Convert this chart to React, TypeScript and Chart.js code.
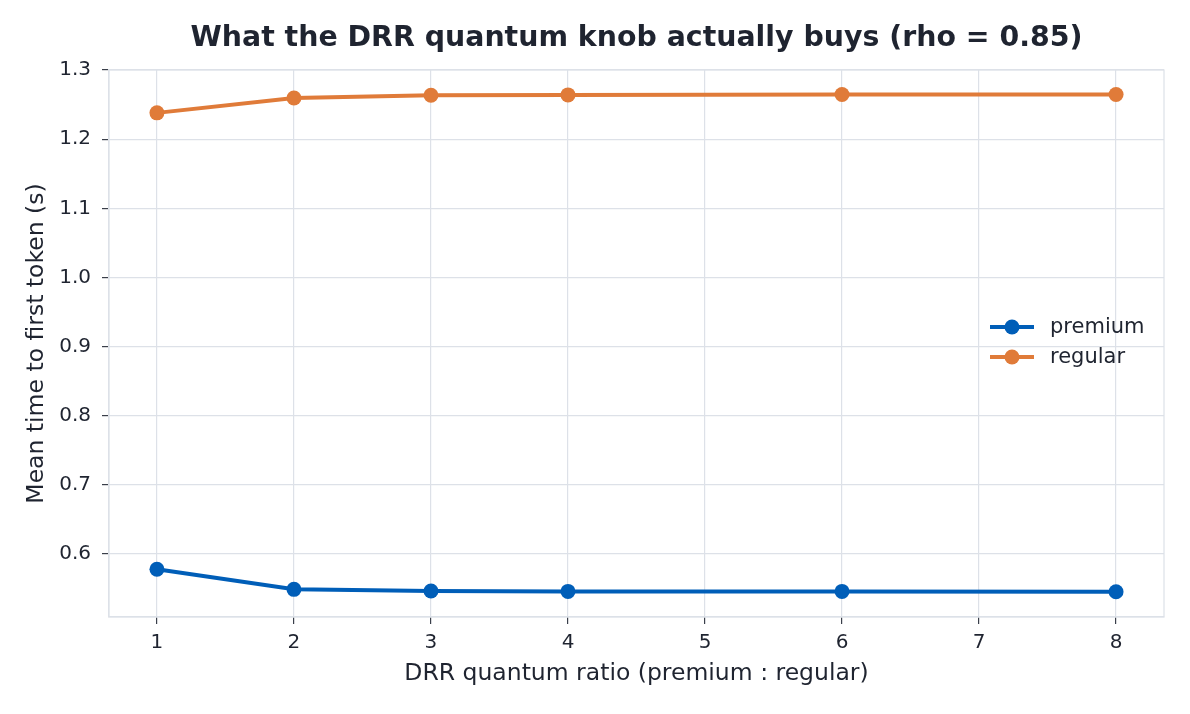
import { useEffect, useRef } from 'react';
import { Chart, registerables } from 'chart.js';

Chart.register(...registerables);

const ratios = [1, 2, 3, 4, 6, 8];
const premiumTtft = [0.578, 0.549, 0.5465, 0.546, 0.546, 0.5455];
const regularTtft = [1.238, 1.2595, 1.2635, 1.264, 1.2645, 1.2645];
const seriesNames = ['premium', 'regular'];
const seriesColors = ['#005eb8', '#e07b39'];
const chartTitle = 'What the DRR quantum knob actually buys (rho = 0.85)';

const TEXT = '#1f2430';
const GRID = '#dde1e8';
const FONT = '"DejaVu Sans", sans-serif';

// title centred on the plot, spines on top/right, legend inside the plot (matplotlib look)
const framePlugin = {
  id: 'frame',
  afterDraw(chart: any) {
    const { ctx, chartArea: a } = chart;
    ctx.save();
    ctx.strokeStyle = GRID;
    ctx.lineWidth = 1.2;
    ctx.strokeRect(a.left, a.top, a.right - a.left, a.bottom - a.top);

    ctx.fillStyle = TEXT;
    ctx.font = `bold 28.4px ${FONT}`;
    ctx.textAlign = 'center';
    ctx.textBaseline = 'middle';
    ctx.fillText(chartTitle, (a.left + a.right) / 2, 38.5);

    ctx.textAlign = 'left';
    const x0 = a.right - 174;
    const x1 = a.right - 130;
    chart.data.datasets.forEach((ds: any, i: number) => {
      const y = a.top + 257 + i * 30;
      ctx.strokeStyle = ds.borderColor;
      ctx.lineWidth = 4;
      ctx.beginPath();
      ctx.moveTo(x0, y);
      ctx.lineTo(x1, y);
      ctx.stroke();
      ctx.fillStyle = ds.borderColor;
      ctx.beginPath();
      ctx.arc((x0 + x1) / 2, y, 7.5, 0, Math.PI * 2);
      ctx.fill();
      ctx.fillStyle = TEXT;
      ctx.font = `21px ${FONT}`;
      ctx.fillText(ds.label, a.right - 114, y + 1);
    });
    ctx.restore();
  },
};

export default function App() {
  const chartRef = useRef<HTMLCanvasElement>(null);
  const chartInstance = useRef<Chart | null>(null);

  useEffect(() => {
    document.body.style.margin = '0';
    if (!chartRef.current) return;
    const ctx = chartRef.current.getContext('2d');
    if (!ctx) return;

    const series = [premiumTtft, regularTtft];
    chartInstance.current = new Chart(ctx, {
      type: 'line',
      data: {
        datasets: series.map((vals, i) => ({
          label: seriesNames[i],
          data: ratios.map((r, j) => ({ x: r, y: vals[j] })),
          borderColor: seriesColors[i],
          backgroundColor: seriesColors[i],
          borderWidth: 4,
          pointRadius: 7.5,
          pointBorderWidth: 0,
          tension: 0,
        })),
      },
      options: {
        animation: false,
        responsive: false,
        devicePixelRatio: 1,
        layout: { padding: { left: 0, right: 26, top: 70, bottom: 0 } },
        plugins: {
          legend: { display: false },
          tooltip: { enabled: false },
          title: { display: false },
        },
        scales: {
          x: {
            type: 'linear',
            min: 0.65,
            max: 8.35,
            afterFit: (s: any) => { s.height = 97; },
            ticks: {
              stepSize: 1,
              includeBounds: false,
              color: TEXT,
              font: { family: FONT, size: 20 },
              padding: 7,
              callback: (v: any) => String(v),
            },
            grid: { color: GRID, tickColor: '#3a3f4a', tickLength: 7, lineWidth: 1.2 },
            border: { color: GRID, width: 1.2 },
            title: {
              display: true,
              text: 'DRR quantum ratio (premium : regular)',
              color: TEXT,
              font: { family: FONT, size: 23.5 },
              padding: { top: 0, bottom: 26.5 },
            },
          },
          y: {
            type: 'linear',
            min: 0.509,
            max: 1.3,
            afterFit: (s: any) => { s.width = 109; },
            ticks: {
              stepSize: 0.1,
              includeBounds: false,
              color: TEXT,
              font: { family: FONT, size: 20 },
              padding: 11,
              callback: (v: any) => Number(v).toFixed(1),
            },
            grid: { color: GRID, tickColor: '#3a3f4a', tickLength: 7, lineWidth: 1.2 },
            border: { color: GRID, width: 1.2 },
            title: {
              display: true,
              text: 'Mean time to first token (s)',
              color: TEXT,
              font: { family: FONT, size: 23.5 },
              padding: { top: 23, bottom: 0 },
            },
          },
        },
      },
      plugins: [framePlugin],
    });

    return () => {
      chartInstance.current?.destroy();
    };
  }, []);

  return (
    <div style={{ width: 1190, height: 714, background: '#fff' }}>
      <canvas ref={chartRef} width={1190} height={714}></canvas>
    </div>
  );
}
